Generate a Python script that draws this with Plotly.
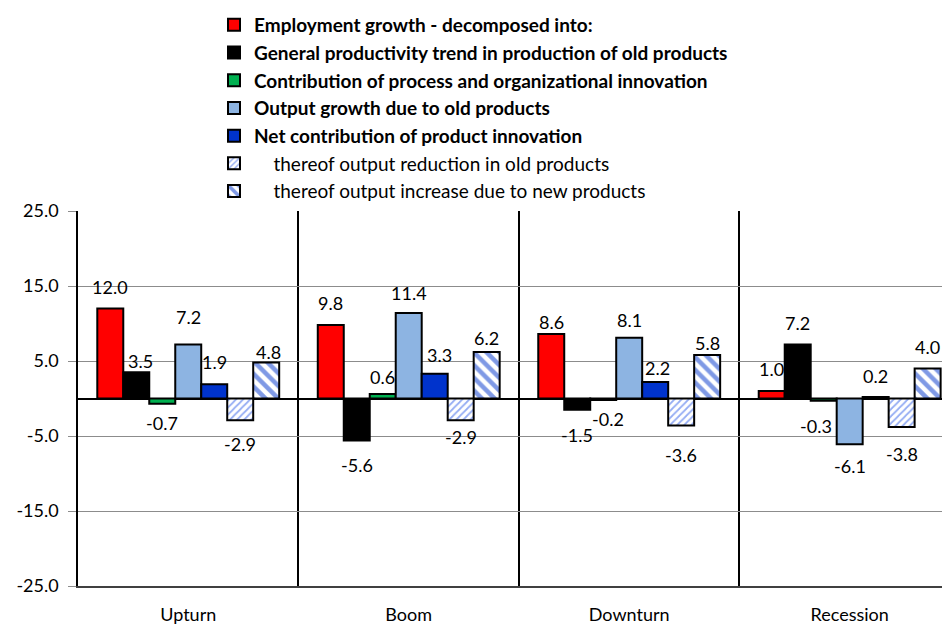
import plotly.graph_objects as go

# ---------------- data ----------------
categories = ["Upturn", "Boom", "Downturn", "Recession"]

series_names = [
    "<b>Employment growth - decomposed into:</b>",
    "<b>General productivity trend in production of old products</b>",
    "<b>Contribution of process and organizational innovation</b>",
    "<b>Output growth due to old products</b>",
    "<b>Net contribution of product innovation</b>",
    "\u00a0\u00a0\u00a0\u00a0thereof output reduction in old products",
    "\u00a0\u00a0\u00a0\u00a0thereof output increase due to new products",
]

employment = [12.0, 9.8, 8.6, 1.0]
productivity = [3.5, -5.6, -1.5, 7.2]
process_innov = [-0.7, 0.6, -0.2, -0.3]
old_output = [7.2, 11.4, 8.1, -6.1]
product_innov = [1.9, 3.3, 2.2, 0.2]
old_reduction = [-2.9, -2.9, -3.6, -3.8]
new_increase = [4.8, 6.2, 5.8, 4.0]

y_ticks = [-25, -15, -5, 5, 15, 25]
y_ticktext = [f"{v:.1f}" for v in y_ticks]

series_values = [employment, productivity, process_innov, old_output,
                 product_innov, old_reduction, new_increase]

# ---------------- styles ----------------
colors = ["#FF0000", "#000000", "#00B050", "#8DB4E2", "#0033CC", "#FFFFFF", "#FFFFFF"]
patterns = [None, None, None, None, None,
            dict(shape="/", fgcolor="#2A5AE8", bgcolor="#FFFFFF", size=5, solidity=0.35),
            dict(shape="\\", fgcolor="#0033CC", bgcolor="#FFFFFF", size=9, solidity=0.5)]

# label offsets in pixels (positive = upwards), per series and category
label_yshift = [
    [22, 22, 12, 22],
    [11, -24, -25, 22],
    [-19, 17, -19, -25],
    [28, 20, 18, -22],
    [22, 19, 14, 21],
    [-24, -17, -29, -27],
    [11, 14, 12, 22],
]
label_xshift = [
    [0, 0, 0, 0],
    [4, 0, 0, 0],
    [0, 0, 5, -8],
    [0, 0, 0, 0],
    [0, 5, 2, 0],
    [0, 0, 0, 0],
    [2, 0, 0, 0],
]

FONT = "Lato"
bargap = 0.175
n = len(series_values)
# the page body adds an 8px offset; the figure is sized/placed to compensate
OFF = 8
W, H = 950 - OFF, 624 - OFF
L, R, T, B = 78 - OFF, 0, 211 - OFF, 624 - 586
plot_w, plot_h = W - L - R, H - T - B

fig = go.Figure()
for i, (name, vals) in enumerate(zip(series_names, series_values)):
    marker = dict(color=colors[i], line=dict(color="#000000", width=2))
    if patterns[i] is not None:
        marker["pattern"] = patterns[i]
    fig.add_trace(go.Bar(x=categories, y=vals, name=name, marker=marker))

# data labels
w = (1 - bargap) / n
annotations = []
for i, vals in enumerate(series_values):
    for k, v in enumerate(vals):
        xc = k - (1 - bargap) / 2 + (i + 0.5) * w
        annotations.append(dict(
            x=xc, y=v, xref="x", yref="y", text=f"{v:.1f}", showarrow=False,
            yanchor="middle", xanchor="center",
            yshift=label_yshift[i][k], xshift=label_xshift[i][k],
            font=dict(family=FONT, size=18, color="#000000"),
        ))

fig.update_layout(
    width=W, height=H,
    margin=dict(l=L, r=R, t=T, b=B, autoexpand=False),
    paper_bgcolor="white", plot_bgcolor="white",
    barmode="group", bargap=bargap, bargroupgap=0,
    font=dict(family=FONT, size=18, color="#000000"),
    showlegend=True,
    legend=dict(
        x=(206 - L) / plot_w, y=1 + (T + 2) / plot_h,
        xanchor="left", yanchor="top",
        bgcolor="rgba(0,0,0,0)", traceorder="normal",
        font=dict(family=FONT, size=19, color="#000000"),
        itemwidth=30,
    ),
    annotations=annotations,
)

fig.update_xaxes(
    type="category", range=[-0.5, 3.455],
    tickson="boundaries", showgrid=True, gridcolor="#000000", gridwidth=1.5,
    ticks="", ticklabelstandoff=12, tickangle=0, automargin=False,
    showline=True, linecolor="#404040", linewidth=1.5,
    tickfont=dict(family=FONT, size=18, color="#000000"),
    zeroline=False,
)
fig.update_yaxes(
    range=[-25, 25], tickvals=y_ticks, ticktext=y_ticktext, automargin=False,
    showgrid=True, gridcolor="#8C8C8C", gridwidth=1,
    ticks="outside", ticklen=8, tickcolor="#8C8C8C",
    ticklabelstandoff=6,
    showline=True, linecolor="#000000", linewidth=1.5,
    zeroline=True, zerolinecolor="#000000", zerolinewidth=1.5,
    tickfont=dict(family=FONT, size=18, color="#000000"),
)

fig.write_html("out.html")
